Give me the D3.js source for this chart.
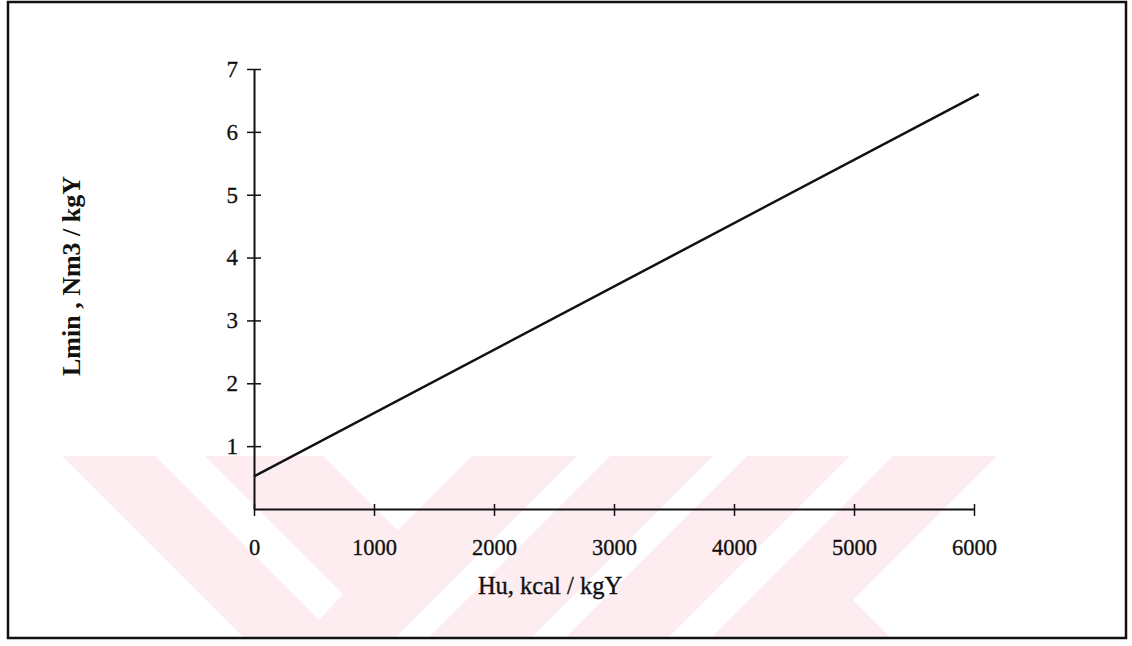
<!DOCTYPE html>
<html>
<head>
<meta charset="utf-8">
<script src="https://cdn.jsdelivr.net/npm/d3@7"></script>
<style>
  html, body { margin: 0; padding: 0; background: #fff; }
  svg { display: block; }
  text { font-family: "Liberation Serif", "DejaVu Serif", serif; fill: #111; }
</style>
</head>
<body>
<svg id="chart" width="1132" height="646"></svg>
<script>
// ---- data ----
const huValues = [0, 6040];          // Hu, kcal / kgY
const lminValues = [0.52, 6.6];      // Lmin, Nm3 / kgY
const xTickValues = [0, 1000, 2000, 3000, 4000, 5000, 6000];
const yTickValues = [1, 2, 3, 4, 5, 6, 7];
const xTitle = "Hu, kcal / kgY";
const yTitle = "Lmin , Nm3 / kgY";

// ---- decorative background watermark (not data) ----
const wmPink = [[62,456],[997,456],[853,600],[891,638],[244,638]];
const wmHoles = [
  [[155,456],[205,456],[343,594],[319,620]],
  [[323,456],[472,456],[397.5,530.5]],
  [[577,456],[610,456],[428,638],[395,638]],
  [[713,456],[747,456],[565,638],[531,638]],
  [[850,456],[893,456],[711,638],[668,638]]
];

const svg = d3.select("#chart");
const W = 1132, H = 646;
svg.append("rect").attr("width", W).attr("height", H).attr("fill", "#fff");

const wm = svg.append("g");
wm.append("polygon").attr("points", wmPink.map(p => p.join(",")).join(" ")).attr("fill", "#fdedf0");
wmHoles.forEach(h => wm.append("polygon").attr("points", h.map(p => p.join(",")).join(" ")).attr("fill", "#fff"));

// frame
svg.append("rect").attr("x", 8).attr("y", 2).attr("width", 1118).attr("height", 636)
  .attr("fill", "none").attr("stroke", "#111").attr("stroke-width", 2.5);

// scales
const x = d3.scaleLinear().domain([0, 6000]).range([254, 974]);
const y = d3.scaleLinear().domain([0, 7]).range([509, 69]);

// x axis
const xAxis = svg.append("g").attr("transform", `translate(0,${y(0)})`)
  .call(d3.axisBottom(x).tickValues(xTickValues).tickSizeInner(7).tickSizeOuter(0).tickPadding(23).tickFormat(d3.format("d")));
xAxis.select(".domain").attr("stroke", "#111").attr("stroke-width", 2.2);
xAxis.selectAll(".tick line").attr("y1", -5).attr("stroke", "#111").attr("stroke-width", 1.5);
xAxis.selectAll(".tick text").attr("font-size", 22.5).attr("font-family", "Liberation Serif")
  .attr("fill", "#111").attr("stroke", "#111").attr("stroke-width", 0.3);

// y axis
const yAxis = svg.append("g").attr("transform", `translate(${x(0)},0)`)
  .call(d3.axisLeft(y).tickValues(yTickValues).tickSizeInner(7).tickSizeOuter(0).tickPadding(9).tickFormat(d3.format("d")));
yAxis.select(".domain").attr("stroke", "#111").attr("stroke-width", 2);
yAxis.selectAll(".tick line").attr("x1", 7).attr("stroke", "#111").attr("stroke-width", 1.5);
yAxis.selectAll(".tick text").attr("font-size", 23).attr("font-family", "Liberation Serif")
  .attr("fill", "#111").attr("stroke", "#111").attr("stroke-width", 0.3);

// line
const pts = huValues.map((h, i) => [h, lminValues[i]]);
svg.append("path").datum(pts)
  .attr("d", d3.line().x(d => x(d[0])).y(d => y(d[1])))
  .attr("fill", "none").attr("stroke", "#111").attr("stroke-width", 2.5);

// titles
svg.append("text").attr("x", 550).attr("y", 594).attr("text-anchor", "middle")
  .attr("font-size", 24.5).attr("stroke", "#111").attr("stroke-width", 0.35).text(xTitle);
svg.append("text").attr("transform", "translate(80,276) rotate(-90)").attr("text-anchor", "middle")
  .attr("font-size", 26).attr("font-weight", "bold").text(yTitle);
</script>
</body>
</html>
